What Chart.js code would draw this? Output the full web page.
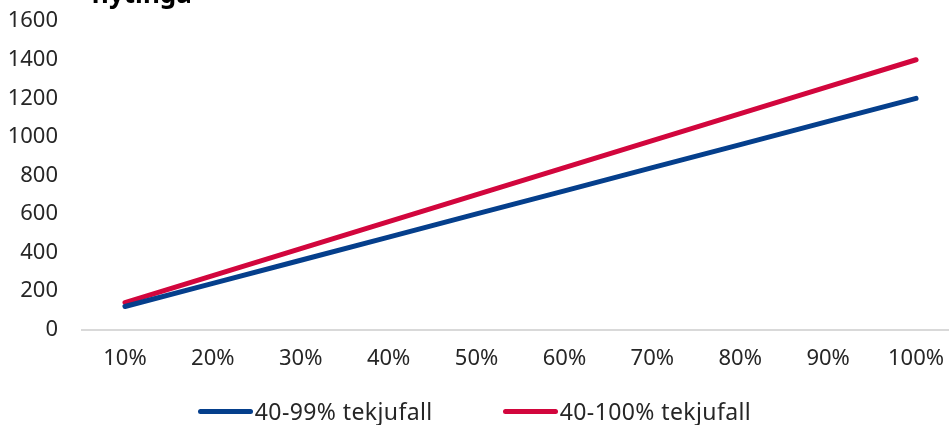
<!DOCTYPE html>
<html lang="is">
<head>
<meta charset="UTF-8">
<title>flytinga</title>
<script src="https://cdn.jsdelivr.net/npm/chart.js"></script>
<style>
    html, body { margin: 0; padding: 0; background: #fff; overflow: hidden; }
    .wrap { width: 962px; height: 440px; position: absolute; left: 0; top: -15px; }
    #skyring {
        position: absolute; left: 0; top: 396px; width: 949px; height: 30px;
        display: flex; justify-content: center; align-items: center; gap: 70px;
        font-family: 'Noto Sans', sans-serif; font-size: 23px; letter-spacing: 0.4px; color: #262626;
    }
    #skyring .atr { display: flex; align-items: center; }
    #skyring .lina { width: 55px; height: 5px; border-radius: 3px; margin-right: 2px; }
</style>
</head>
<body>
<div class="wrap"><canvas id="graf"></canvas></div>
<div id="skyring"></div>
<script>
    const flokkar = ["10%", "20%", "30%", "40%", "50%", "60%", "70%", "80%", "90%", "100%"];
    const rod99 = [120, 240, 360, 480, 600, 720, 840, 960, 1080, 1200];
    const rod100 = [140, 280, 420, 560, 700, 840, 980, 1120, 1260, 1400];
    const heiti = ["40-99% tekjufall", "40-100% tekjufall"];
    const litir = ["#053f8c", "#d2063d"];
    const titill = "flytinga";

    const letur = "'Noto Sans', sans-serif";

    // titill sem skerst af efst
    const titilPlugin = {
        id: "titill",
        afterDraw(chart) {
            const ctx = chart.ctx;
            ctx.save();
            ctx.font = "bold 26px " + letur;
            ctx.fillStyle = "#000";
            ctx.textBaseline = "alphabetic";
            ctx.fillText(titill, 91, 18);
            ctx.restore();
        }
    };

    const graf = new Chart(document.getElementById("graf"), {
        type: "line",
        data: {
            labels: flokkar,
            datasets: [
                { label: heiti[0], data: rod99, borderColor: litir[0], backgroundColor: litir[0],
                  borderWidth: 5, pointRadius: 0, borderCapStyle: "round" },
                { label: heiti[1], data: rod100, borderColor: litir[1], backgroundColor: litir[1],
                  borderWidth: 5, pointRadius: 0, borderCapStyle: "round" }
            ]
        },
        options: {
            responsive: true,
            maintainAspectRatio: false,
            animation: false,
            layout: { padding: { top: 6, left: 0, right: 2, bottom: 45 } },
            plugins: {
                legend: { display: false },
                tooltip: { enabled: false }
            },
            scales: {
                x: {
                    offset: true,
                    grid: { display: false },
                    border: { display: false },
                    ticks: { font: { family: letur, size: 22 }, color: "#262626", padding: 8, maxRotation: 0 }
                },
                y: {
                    min: 0,
                    max: 1600,
                    afterFit(scale) { scale.width = 81; },
                    ticks: {
                        stepSize: 200,
                        font: { family: letur, size: 22 },
                        color: "#262626",
                        padding: 23,
                        callback: v => String(v)
                    },
                    border: { display: false },
                    grid: {
                        drawTicks: false,
                        color: ctx => ctx.tick.value === 0 ? "#d9d9d9" : "transparent",
                        lineWidth: 2
                    }
                }
            }
        },
        plugins: [titilPlugin]
    });

    // skyring út frá gagnaröðunum
    const skyring = document.getElementById("skyring");
    graf.data.datasets.forEach(d => {
        const atr = document.createElement("div");
        atr.className = "atr";
        const lina = document.createElement("span");
        lina.className = "lina";
        lina.style.background = d.borderColor;
        const texti = document.createElement("span");
        texti.textContent = d.label;
        atr.appendChild(lina);
        atr.appendChild(texti);
        skyring.appendChild(atr);
    });
</script>
</body>
</html>
